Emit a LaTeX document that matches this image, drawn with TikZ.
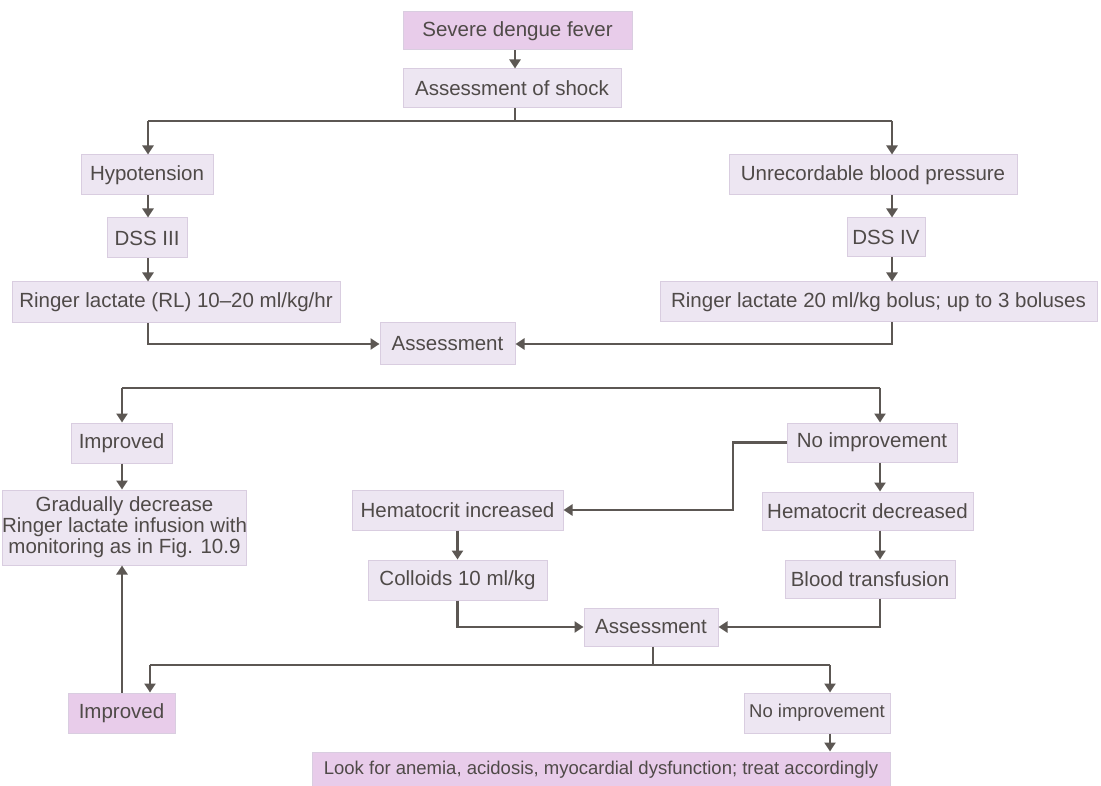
\documentclass[tikz,border=0pt]{standalone}
\usepackage{fontspec}
\setmainfont{Liberation Sans}
\usetikzlibrary{arrows.meta}
\definecolor{lav}{HTML}{EDE6F2}
\definecolor{lavd}{HTML}{D9CDE0}
\definecolor{pinkf}{HTML}{E8CCEA}
\definecolor{lnc}{HTML}{5C5753}
\definecolor{txt}{HTML}{4F4A48}
\begin{document}
\begin{tikzpicture}[x=1pt,y=-1pt,
  box/.style={fill=lav, draw=lavd, line width=1pt, inner sep=0pt, text=txt,
    font=\fontsize{20.5}{21}\selectfont, align=center},
  pbox/.style={box, fill=pinkf},
  small/.style={font=\fontsize{18.5}{20}\selectfont},
  sz/.style 2 args={minimum width=#1pt, minimum height=#2pt},
  conn/.style={draw=lnc, line width=2.6pt},
  arr/.style={conn, -{Triangle[length=9pt,width=11pt]}}]
\useasboundingbox[fill=white] (0,0) rectangle (1101,786);

% nodes
\node[pbox, sz={229}{38}] (sev) at (517.5,31) {Severe dengue fever};
\node[box, sz={218}{39}] (shock) at (512,88.5) {Assessment of shock};
\node[box, sz={132}{40}] (hypo) at (147,175) {Hypotension};
\node[box, sz={80}{40}] (dss3) at (147,238) {DSS III};
\node[box, sz={328}{41}] (rl) at (176,302.5) {Ringer lactate (RL) 10--20 ml/kg/hr};
\node[box, sz={288}{40}] (unrec) at (873,175) {Unrecordable blood pressure};
\node[box, sz={78}{39}] (dss4) at (886,237.5) {DSS IV};
\node[box, sz={437}{40}] (rl20) at (878.5,302) {Ringer lactate 20 ml/kg bolus; up to 3 boluses};
\node[box, sz={135}{42}] (as1) at (447.5,344) {Assessment};
\node[box, sz={101}{40}] (imp1) at (121.5,443) {Improved};
\node[box, sz={225}{75}] (grad) at (124.5,527.5) {Gradually decrease\\Ringer lactate infusion with\\monitoring as in Fig. 10.9};
\node[box, sz={170}{39}] (noimp1) at (872,442.5) {No improvement};
\node[box, sz={211}{40}] (heminc) at (457.5,510) {Hematocrit increased};
\node[box, sz={211}{38}] (hemdec) at (867.5,511) {Hematocrit decreased};
\node[box, sz={179}{40}] (coll) at (457.5,580) {Colloids 10 ml/kg};
\node[box, sz={170}{38}] (blood) at (870,579) {Blood transfusion};
\node[box, sz={134}{38}] (as2) at (651,627) {Assessment};
\node[pbox, sz={107}{40}] (imp2) at (121.5,713) {Improved};
\node[box, small, sz={146}{40}] (noimp2) at (817,713) {No improvement};
\node[pbox, small, sz={578}{36}] (look) at (601,770) {Look for anemia, acidosis, myocardial dysfunction; treat accordingly};

% coordinates for branch lines
\coordinate (t1) at (515,121);
\coordinate (tL) at (148,121);
\coordinate (tR) at (892,121);
\coordinate (mL) at (122,388);
\coordinate (mR) at (880,388);
\coordinate (b3) at (653,665);
\coordinate (bL) at (150,665);
\coordinate (bR) at (830,665);
\coordinate (k1) at (733,510);

% connectors
\draw[arr] (sev.south -| t1) -- (shock.north -| t1);
\draw[conn] (shock.south -| t1) -- (t1);
\draw[conn] (tL) -- (tR);
\draw[arr] (tL) -- (hypo.north -| tL);
\draw[arr] (tR) -- (unrec.north -| tR);
\draw[arr] (hypo.south -| tL) -- (dss3.north -| tL);
\draw[arr] (dss3.south -| tL) -- (rl.north -| tL);
\draw[arr] (unrec.south -| tR) -- (dss4.north -| tR);
\draw[arr] (dss4.south -| tR) -- (rl20.north -| tR);
\draw[arr] (rl.south -| tL) |- (as1.west);
\draw[arr] (rl20.south -| tR) |- (as1.east);

\draw[conn] (mL) -- (mR);
\draw[arr] (mL) -- (imp1.north -| mL);
\draw[arr] (mR) -- (noimp1.north -| mR);
\draw[arr] (imp1.south -| mL) -- (grad.north -| mL);
\draw[arr] (noimp1.south -| mR) -- (hemdec.north -| mR);
\draw[arr] (noimp1.west) -| (k1) -- (heminc.east);
\draw[arr] (heminc.south) -- (coll.north);
\draw[arr] (hemdec.south -| mR) -- (blood.north -| mR);
\draw[arr] (coll.south) |- (as2.west);
\draw[arr] (blood.south -| mR) |- (as2.east);

\draw[conn] (as2.south -| b3) -- (b3);
\draw[conn] (bL) -- (bR);
\draw[arr] (bL) -- (imp2.north -| bL);
\draw[arr] (bR) -- (noimp2.north -| bR);
\draw[arr] (imp2.north -| mL) -- (grad.south -| mL);
\draw[arr] (noimp2.south -| bR) -- (look.north -| bR);
\end{tikzpicture}
\end{document}
